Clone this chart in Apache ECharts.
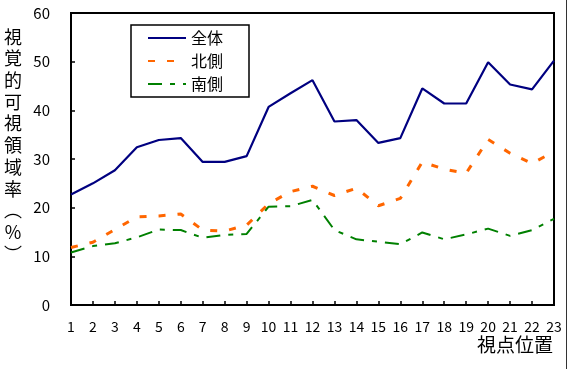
<!DOCTYPE html>
<html><head><meta charset="utf-8">
<script src="https://cdn.jsdelivr.net/npm/echarts@6/dist/echarts.min.js"></script>
<style>html,body{margin:0;padding:0;background:#fff}#c{width:567px;height:369px}</style>
</head><body><div id="c"></div>
<script>
const categories = ['1','2','3','4','5','6','7','8','9','10','11','12','13','14','15','16','17','18','19','20','21','22','23'];
const seriesNames = ['全体', '北側', '南側'];
const total = [22.7, 25.0, 27.7, 32.4, 33.9, 34.3, 29.4, 29.4, 30.6, 40.7, 43.5, 46.2, 37.7, 38.0, 33.3, 34.3, 44.5, 41.4, 41.4, 49.9, 45.3, 44.3, 50.2];
const north = [11.8, 12.9, 15.5, 18.1, 18.3, 18.7, 15.4, 15.2, 16.4, 20.8, 23.3, 24.4, 22.5, 24.0, 20.4, 21.9, 29.4, 27.9, 27.1, 34.0, 31.2, 29.1, 31.5];
const south = [10.8, 12.1, 12.7, 13.9, 15.5, 15.4, 13.8, 14.4, 14.6, 20.2, 20.3, 21.6, 15.4, 13.5, 13.0, 12.5, 14.9, 13.5, 14.5, 15.7, 14.2, 15.4, 17.7];
const yTicks = [0, 10, 20, 30, 40, 50, 60];
const yName = ['視','覚','的','可','視','領','域','率','︵','％','︶'];
const xName = '視点位置';

const FONT = '"Noto Sans CJK JP", "Liberation Sans", sans-serif';
const chart = echarts.init(document.getElementById('c'), null, {renderer: 'canvas'});
chart.setOption({
  backgroundColor: '#fff',
  animation: false,
  textStyle: {fontFamily: FONT, color: '#000'},
  grid: {left: 71, top: 13, right: 13, bottom: 64, show: true, borderColor: '#000', borderWidth: 2},
  legend: {
    orient: 'vertical', left: 131, top: 25,
    padding: [5, 26, 5, 16],
    borderColor: '#000', borderWidth: 1.5,
    itemWidth: 38, itemHeight: 14, itemGap: 7,
    itemStyle: {opacity: 0},
    textStyle: {fontSize: 16, lineHeight: 16, fontFamily: FONT, color: '#000'},
    data: seriesNames
  },
  xAxis: {
    type: 'category', data: categories, boundaryGap: false,
    axisLine: {lineStyle: {color: '#000', width: 2}},
    axisTick: {inside: true, length: 4, lineStyle: {color: '#000', width: 1.5}, alignWithLabel: true},
    axisLabel: {fontSize: 14, color: '#000', margin: 15, fontFamily: FONT, interval: 0},
    splitLine: {show: false}
  },
  yAxis: {
    type: 'value', min: yTicks[0], max: yTicks[yTicks.length - 1], interval: 10,
    axisLine: {show: true, lineStyle: {color: '#000', width: 2}},
    axisTick: {show: true, inside: true, length: 4, lineStyle: {color: '#000', width: 1.5}},
    axisLabel: {fontSize: 15, color: '#000', margin: 21, fontFamily: FONT, padding: [12, 0, 0, 0]},
    splitLine: {show: false}
  },
  graphic: [
    {type: 'text', left: 4, top: 26, style: {text: yName.join('\n'), font: '18px ' + FONT, lineHeight: 21.7, fill: '#000', align: 'center', width: 18}},
    {type: 'text', right: 14, top: 335, style: {text: xName, font: '19px ' + FONT, fill: '#000'}},
    {type: 'line', shape: {x1: 566.5, y1: 0, x2: 566.5, y2: 369}, style: {stroke: '#333', lineWidth: 1}}
  ],
  series: [
    {name: seriesNames[0], type: 'line', data: total, symbol: 'none', lineStyle: {color: '#000080', width: 2.2}, itemStyle: {color: '#000080'}},
    {name: seriesNames[1], type: 'line', data: north, symbol: 'none', lineStyle: {color: '#FF6600', width: 3, type: [7, 12]}, itemStyle: {color: '#FF6600'}},
    {name: seriesNames[2], type: 'line', data: south, symbol: 'none', lineStyle: {color: '#008000', width: 2, type: [14, 8, 5, 8]}, itemStyle: {color: '#008000'}}
  ]
});
</script></body></html>
